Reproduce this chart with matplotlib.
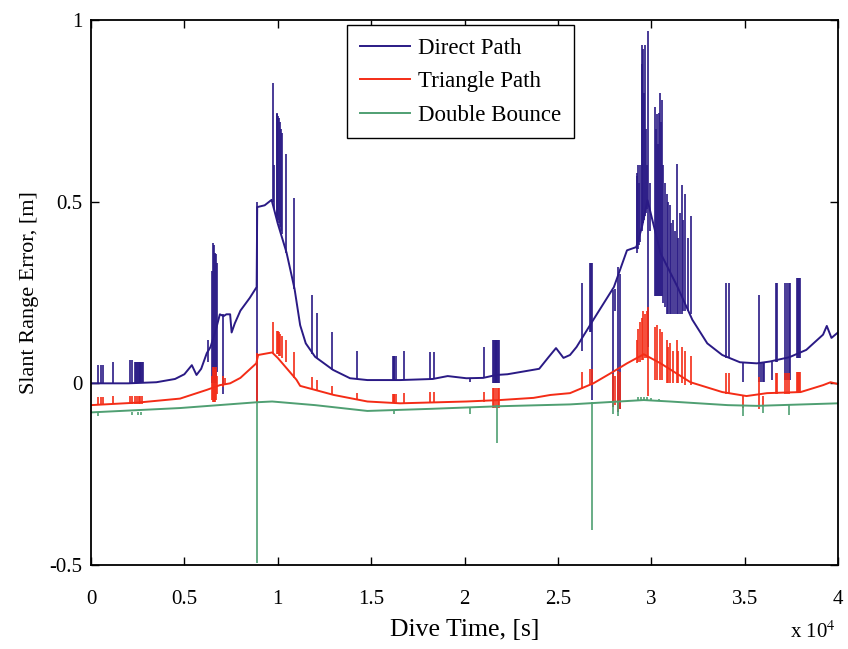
import numpy as np
import matplotlib.pyplot as plt

plt.rcParams['font.family'] = ['Liberation Serif', 'DejaVu Serif']
plt.rcParams['mathtext.fontset'] = 'stix'

# colours of the three solutions
c_direct = '#2a1a85'
c_triangle = '#f42c16'
c_double = '#4f9f72'

# baseline curves (time in s, error in m)
direct_t = [0, 2000, 3500, 4500, 5000, 5400, 5650, 5900, 6200, 6400, 6700, 6900, 7100, 7250,
            7450, 7530, 7700, 8000, 8500, 8870, 8900, 9300, 9670, 10000, 10470, 10900, 11200,
            11500, 12000, 12960, 13870, 14800, 16550, 18300, 19100, 20100, 21000, 21700,
            22300, 24000, 24500, 24900, 25300, 25650, 26000, 26900, 28000, 28700, 29200,
            29500, 29800, 30500, 31400, 32200, 33000, 33800, 34750, 35650, 36350, 37400,
            38300, 39200, 39400, 39650, 39950, 40000]
direct_y = [0.0, 0.0, 0.003, 0.012, 0.025, 0.05, 0.023, 0.04, 0.083, 0.10, 0.15, 0.19, 0.185, 0.19,
            0.19, 0.14, 0.165, 0.2, 0.235, 0.265, 0.485, 0.49, 0.505, 0.44, 0.36, 0.26, 0.16,
            0.11, 0.073, 0.037, 0.014, 0.009, 0.009, 0.012, 0.02, 0.014, 0.015, 0.023,
            0.025, 0.04, 0.072, 0.097, 0.07, 0.078, 0.10, 0.175, 0.265, 0.366, 0.375,
            0.43, 0.504, 0.358, 0.266, 0.175, 0.11, 0.078, 0.058, 0.055, 0.06, 0.072,
            0.092, 0.134, 0.158, 0.125, 0.138, 0.14]

triangle_t = [0, 2500, 4770, 6200, 6900, 7450, 8000, 8850, 8950, 9700, 10000, 11000, 11200,
              13000, 14800, 16550, 20100, 21900, 23700, 24600, 25650, 26900, 27800, 28700,
              29600, 30500, 32100, 33800, 35100, 36200, 38000, 39200, 39600, 40000]
triangle_y = [-0.06, -0.053, -0.042, -0.018, -0.005, 0.0, 0.015, 0.055, 0.078, 0.085, 0.07,
              0.01, -0.007, -0.032, -0.05, -0.055, -0.05, -0.046, -0.04, -0.032, -0.027, 0.0,
              0.027, 0.055, 0.08, 0.055, 0.003, -0.024, -0.035, -0.027, -0.024, -0.005, 0.003,
              -0.002]

double_t = [0, 4770, 8900, 9700, 12000, 14800, 18300, 21900, 25650, 29600, 31000, 34100,
            35650, 40000]
double_y = [-0.08, -0.068, -0.052, -0.05, -0.06, -0.076, -0.07, -0.063, -0.058, -0.046, -0.05,
            -0.06, -0.062, -0.055]

# outlier spikes: (time, low, high)
direct_spikes = [
    (400, 0.0, 0.05), (550, 0.0, 0.05), (650, 0.0, 0.05), (1200, 0.0, 0.06), (2100, 0.0, 0.065),
    (2200, 0.0, 0.065), (2350, 0.0, 0.06), (2400, 0.0, 0.06), (2450, 0.0, 0.06), (2500, 0.0, 0.06),
    (2550, 0.0, 0.06), (2600, 0.0, 0.06), (2650, 0.0, 0.06), (2700, 0.0, 0.06), (2750, 0.0, 0.06),
    (2800, 0.0, 0.06),
    (6280, 0.06, 0.12), (6460, 0.0, 0.31), (6540, 0.0, 0.386), (6580, 0.0, 0.38), (6620, 0.0, 0.36),
    (6690, 0.0, 0.357), (6760, 0.03, 0.33), (7080, -0.03, 0.19),
    (8900, -0.05, 0.5),
    (9730, 0.5, 0.826), (9800, 0.48, 0.60), (9940, 0.46, 0.745), (9980, 0.45, 0.74),
    (10020, 0.45, 0.735), (10060, 0.44, 0.73), (10100, 0.43, 0.72), (10150, 0.42, 0.70),
    (10210, 0.41, 0.69), (10430, 0.36, 0.63), (10890, 0.26, 0.51), (11850, 0.08, 0.243),
    (12080, 0.07, 0.193), (12920, 0.037, 0.14),
    (14230, 0.012, 0.089), (16150, 0.009, 0.075), (16200, 0.009, 0.075), (16250, 0.009, 0.075),
    (16330, 0.009, 0.075), (16760, 0.009, 0.089), (18150, 0.012, 0.087), (18370, 0.012, 0.087),
    (20300, 0.003, 0.014), (21040, 0.015, 0.10), (21510, 0.0, 0.12), (21560, 0.0, 0.12),
    (21610, 0.0, 0.12), (21660, 0.0, 0.12), (21710, 0.0, 0.12), (21760, 0.0, 0.12),
    (21810, 0.0, 0.12), (21860, 0.0, 0.12),
    (26270, 0.09, 0.277), (26720, 0.14, 0.33), (26790, 0.14, 0.33), (26850, -0.045, 0.33),
    (27970, -0.065, 0.257), (28060, 0.2, 0.26), (28240, -0.08, 0.32), (28330, -0.07, 0.30),
    (29220, 0.36, 0.58), (29260, 0.37, 0.57), (29300, 0.37, 0.6), (29350, 0.38, 0.55),
    (29400, 0.39, 0.6), (29490, 0.42, 0.93), (29530, 0.43, 0.88), (29580, 0.44, 0.92),
    (29620, 0.45, 0.80), (29665, 0.46, 0.93), (29720, 0.47, 0.70), (29780, 0.48, 0.60),
    (29845, 0.1, 0.97), (29950, 0.42, 0.55),
    (30200, 0.24, 0.76), (30250, 0.24, 0.70), (30300, 0.24, 0.74), (30350, 0.24, 0.66),
    (30400, 0.24, 0.745), (30470, 0.24, 0.80), (30520, 0.24, 0.72), (30560, 0.24, 0.78),
    (30650, 0.22, 0.60), (30750, 0.21, 0.55), (30830, 0.19, 0.52), (30920, 0.19, 0.50),
    (31005, 0.19, 0.49), (31080, 0.19, 0.44), (31150, 0.19, 0.45), (31250, 0.19, 0.42),
    (31360, 0.19, 0.605), (31450, 0.19, 0.40), (31550, 0.19, 0.47), (31630, 0.19, 0.545),
    (31720, 0.2, 0.45), (31810, 0.2, 0.52), (31950, 0.2, 0.40), (32130, 0.19, 0.46),
    (34000, 0.07, 0.275), (34150, 0.07, 0.275), (34930, 0.003, 0.058), (35790, 0.003, 0.243),
    (35880, 0.003, 0.055), (35960, 0.003, 0.055), (36040, 0.003, 0.055), (36450, 0.01, 0.06),
    (36680, 0.06, 0.275), (36730, 0.06, 0.275), (37160, 0.01, 0.275), (37250, 0.01, 0.275),
    (37350, 0.01, 0.275), (37430, 0.01, 0.275), (37790, 0.07, 0.29), (37850, 0.07, 0.29),
    (37910, 0.07, 0.29), (37970, 0.07, 0.29),
]

triangle_spikes = [
    (400, -0.06, -0.037), (550, -0.06, -0.037), (650, -0.06, -0.037), (1200, -0.058, -0.035),
    (2100, -0.057, -0.035), (2200, -0.057, -0.035), (2350, -0.057, -0.035), (2450, -0.057, -0.035),
    (2550, -0.057, -0.035), (2650, -0.057, -0.035), (2750, -0.057, -0.035),
    (6460, -0.045, 0.02), (6540, -0.05, 0.045), (6580, -0.05, 0.045), (6620, -0.05, 0.04),
    (6690, -0.045, 0.045), (6760, -0.03, 0.02), (7080, -0.01, 0.02), (7200, -0.005, 0.015),
    (8900, -0.055, 0.083),
    (9730, 0.083, 0.17), (9940, 0.08, 0.145), (10000, 0.08, 0.145), (10060, 0.075, 0.14),
    (10130, 0.075, 0.135), (10210, 0.07, 0.13), (10430, 0.06, 0.12), (10890, 0.015, 0.087),
    (11850, -0.015, 0.018), (12080, -0.02, 0.01), (12920, -0.03, -0.008),
    (14230, -0.045, -0.027), (16150, -0.055, -0.03), (16200, -0.055, -0.03),
    (16250, -0.055, -0.03), (16330, -0.055, -0.03), (16760, -0.055, -0.027),
    (18150, -0.053, -0.024), (18370, -0.053, -0.024), (21040, -0.05, -0.024),
    (21510, -0.068, -0.013), (21600, -0.068, -0.013), (21700, -0.068, -0.013),
    (21780, -0.068, -0.013), (21860, -0.068, -0.013),
    (26270, -0.015, 0.03), (26720, -0.005, 0.04), (26850, -0.005, 0.04), (27970, -0.065, 0.027),
    (28060, -0.06, 0.02), (28240, -0.075, 0.035), (28330, -0.07, 0.03),
    (29220, 0.055, 0.12), (29300, 0.06, 0.15), (29400, 0.06, 0.17), (29490, 0.065, 0.18),
    (29580, 0.065, 0.2), (29665, 0.07, 0.19), (29750, 0.07, 0.2), (29845, -0.036, 0.21),
    (30200, 0.01, 0.155), (30300, 0.01, 0.16), (30470, 0.01, 0.15), (30560, 0.01, 0.14),
    (30830, 0.0, 0.12), (30920, 0.0, 0.10), (31005, 0.0, 0.11), (31150, 0.0, 0.09),
    (31360, 0.0, 0.12), (31450, 0.0, 0.09), (31630, 0.0, 0.10), (31810, -0.005, 0.09),
    (32130, -0.005, 0.074),
    (34000, -0.03, 0.028), (34150, -0.03, 0.028), (34930, -0.068, -0.035), (35790, -0.07, 0.017),
    (35960, -0.06, -0.035), (36680, -0.03, 0.028), (36730, -0.03, 0.028), (37160, -0.03, 0.028),
    (37250, -0.03, 0.028), (37350, -0.03, 0.028), (37790, -0.024, 0.03), (37850, -0.024, 0.03),
    (37910, -0.024, 0.03), (37970, -0.024, 0.03),
]

double_spikes = [
    (8900, -0.495, -0.05), (21750, -0.165, -0.06), (26850, -0.405, -0.05),
    (400, -0.09, -0.08), (2200, -0.088, -0.078), (2500, -0.088, -0.078), (2700, -0.088, -0.078),
    (16250, -0.085, -0.074), (20300, -0.085, -0.068), (27970, -0.085, -0.05),
    (28240, -0.09, -0.048), (34930, -0.09, -0.06), (35960, -0.082, -0.062),
    (37350, -0.088, -0.058),
    (29300, -0.046, -0.038), (29450, -0.046, -0.037), (29600, -0.046, -0.037),
    (29750, -0.046, -0.038), (30000, -0.047, -0.04), (30400, -0.048, -0.042),
]

x_ticks = [0, 5000, 10000, 15000, 20000, 25000, 30000, 35000, 40000]
x_tick_labels = ['0', '0.5', '1', '1.5', '2', '2.5', '3', '3.5', '4']
y_ticks = [-0.5, 0, 0.5, 1]
y_tick_labels = ['-0.5', '0', '0.5', '1']

fig = plt.figure(figsize=(8.48, 6.49), dpi=100)
ax = fig.add_axes([91 / 848, 1 - 565 / 649, 747 / 848, 545 / 649])

series = [
    ('Direct Path', direct_t, direct_y, direct_spikes, c_direct),
    ('Triangle Path', triangle_t, triangle_y, triangle_spikes, c_triangle),
    ('Double Bounce', double_t, double_y, double_spikes, c_double),
]
for name, t, y, spikes, col in series:
    ax.plot(t, y, color=col, lw=1.4, label=name)
    st, lo, hi = zip(*spikes)
    ax.vlines(st, lo, hi, color=col, lw=1.2)

ax.set_xlim(0, 40000)
ax.set_ylim(-0.5, 1)
ax.set_xticks(x_ticks)
ax.set_xticklabels(x_tick_labels)
ax.set_yticks(y_ticks)
ax.set_yticklabels(y_tick_labels)
ax.tick_params(direction='in', top=True, right=True, length=6, width=1, labelsize=15)
ax.tick_params(axis='x', pad=18)
ax.tick_params(axis='y', pad=6)
for s in ax.spines.values():
    s.set_linewidth(1.3)

ax.set_xlabel('Dive Time, [s]', fontsize=18.5, labelpad=7)
ax.set_ylabel('Slant Range Error, [m]', fontsize=16, labelpad=8)
fig.text(0.985, 0.017, r'x 10$^{4}$', ha='right', va='baseline', fontsize=15)

leg = ax.legend(loc='upper center', bbox_to_anchor=(0.495, 0.991), borderaxespad=0,
                fancybox=False, edgecolor='black', framealpha=1, fontsize=16.5,
                handlelength=2.2, handletextpad=0.35, borderpad=0.55, labelspacing=0.55)
leg.get_frame().set_linewidth(1.0)
for h in leg.get_lines():
    h.set_linewidth(1.4)

fig.savefig('out.png', dpi=100)
